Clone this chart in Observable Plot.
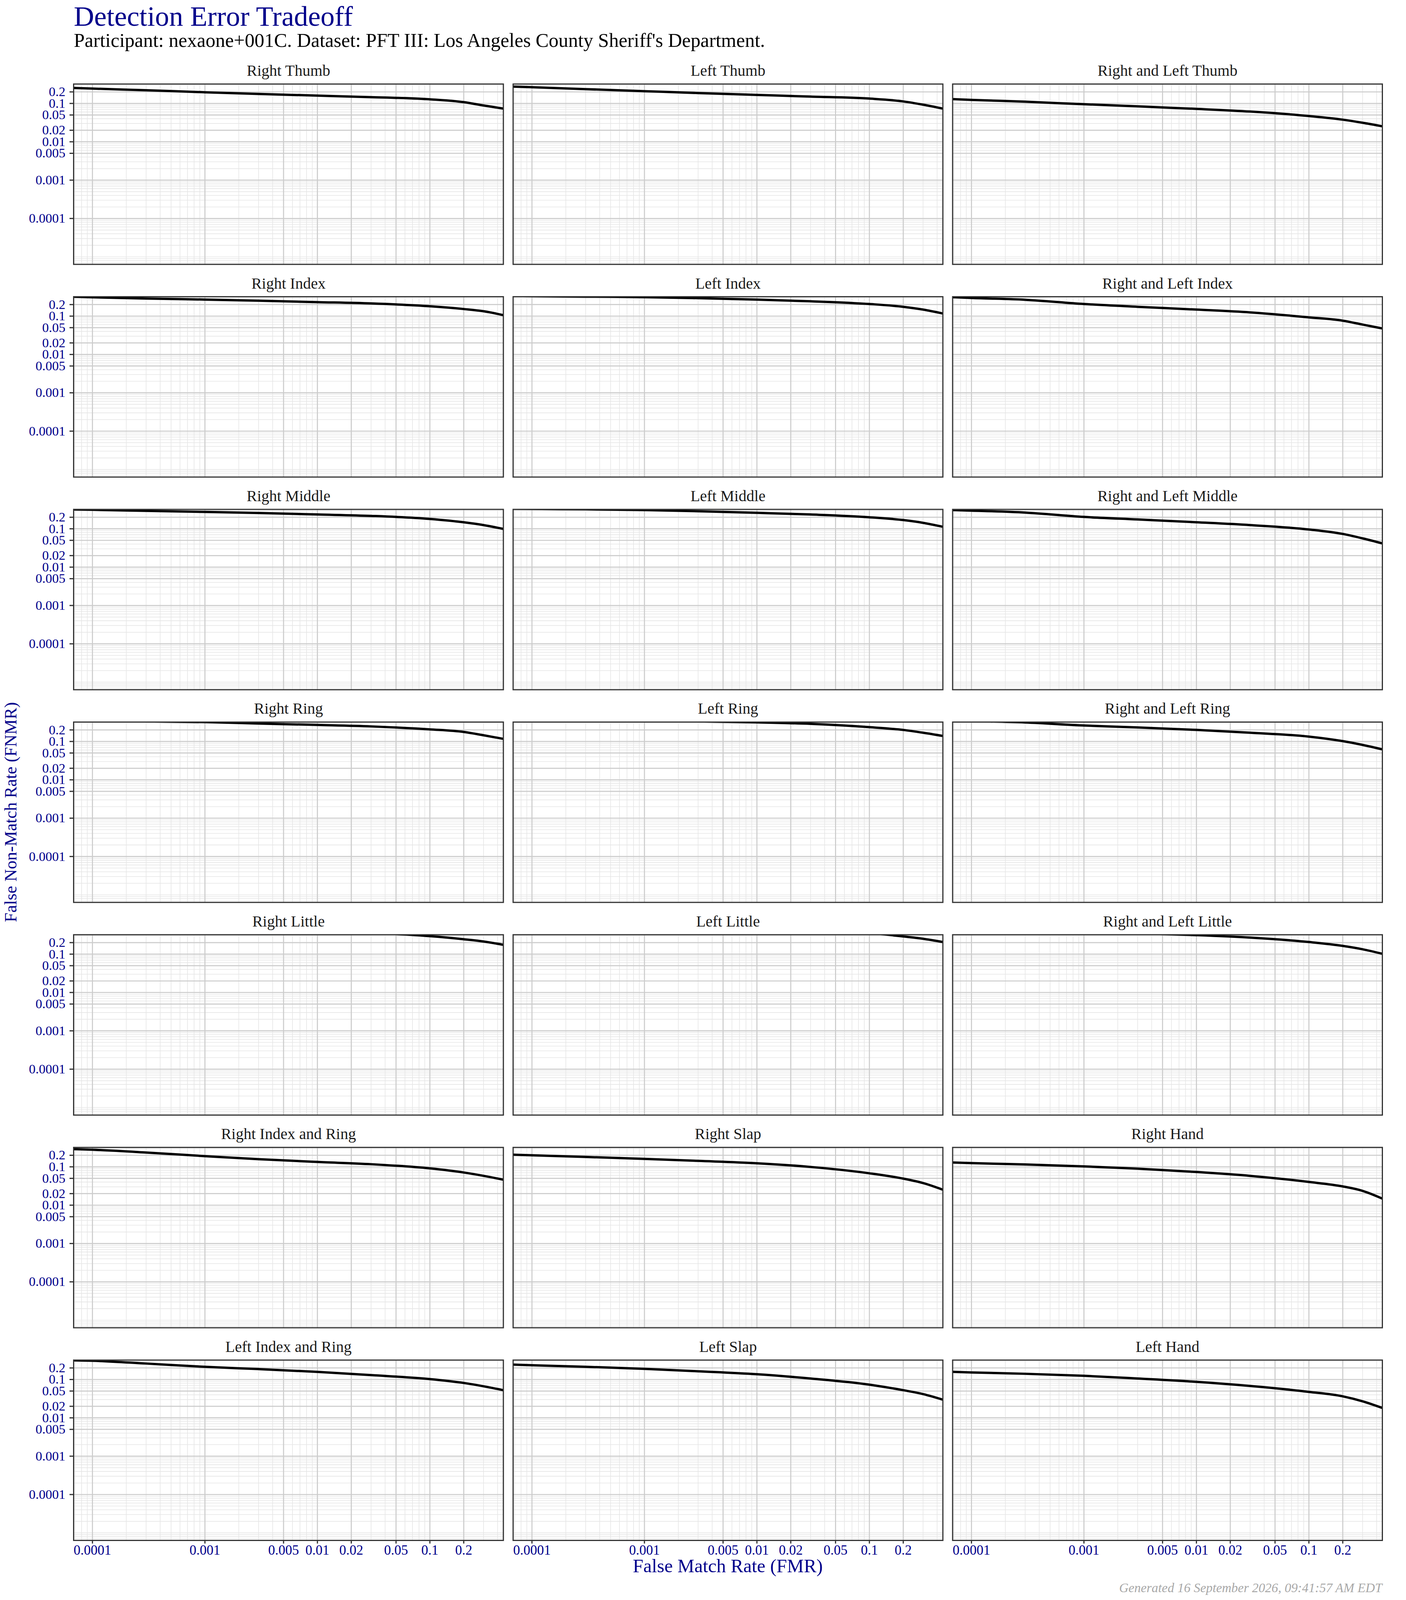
<!DOCTYPE html>
<html>
<head>
<meta charset="utf-8">
<script src="https://cdn.jsdelivr.net/npm/d3@7"></script>
<script src="https://cdn.jsdelivr.net/npm/@observablehq/plot@0.6"></script>
<style>
  html, body { margin: 0; background: #fff; }
  #page { position: relative; width: 3600px; height: 4096px; background: #fff; font-family: "Liberation Serif", "DejaVu Serif", serif; overflow: hidden; }
  .abs { position: absolute; white-space: nowrap; line-height: 1; }
</style>
</head>
<body>
<div id="page">
  <div class="abs" style="left:189px; top:6.3px; font-size:72px; color:#00008B;">Detection Error Tradeoff</div>
  <div class="abs" style="left:189px; top:78.4px; font-size:50px; color:#000;">Participant: nexaone+001C. Dataset: PFT III: Los Angeles County Sheriff's Department.</div>
  <div id="chart" style="position:absolute; left:0; top:140px;"></div>
  <div class="abs" style="left:188px; width:3351px; text-align:center; top:3985.4px; font-size:48.5px; color:#00008B;">False Match Rate (FMR)</div>
  <div class="abs" style="left:-371.8px; width:800px; text-align:center; top:2057px; height:44px; font-size:44px; color:#00008B; transform:rotate(-90deg); transform-origin:center;">False Non-Match Rate (FNMR)</div>
  <div class="abs" style="right:61px; top:4048.4px; font-size:33.4px; font-style:italic; color:#a8a8a8;">Generated 16 September 2026, 09:41:57 AM EDT</div>
</div>
<script>
// Panel titles (row-major, 3 columns)
const panelNames = [
  "Right Thumb", "Left Thumb", "Right and Left Thumb",
  "Right Index", "Left Index", "Right and Left Index",
  "Right Middle", "Left Middle", "Right and Left Middle",
  "Right Ring", "Left Ring", "Right and Left Ring",
  "Right Little", "Left Little", "Right and Left Little",
  "Right Index and Ring", "Right Slap", "Right Hand",
  "Left Index and Ring", "Left Slap", "Left Hand"
];

// False Match Rate sample points (shared by all curves)
const fmr = [6.8e-5, 1e-4, 3e-4, 1e-3, 3e-3, 0.01, 0.03, 0.1, 0.2, 0.3, 0.45];

// False Non-Match Rate (null = curve not drawn there)
const rightThumb      = [0.254, 0.244, 0.221, 0.196, 0.177, 0.160, 0.146, 0.128, 0.108, 0.0885, 0.0734];
const leftThumb       = [0.275, 0.265, 0.236, 0.209, 0.187, 0.167, 0.151, 0.134, 0.113, 0.0929, 0.0734];
const rlThumb         = [0.130, 0.124, 0.111, 0.0953, 0.0840, 0.0721, 0.0614, 0.0470, 0.0377, 0.0313, 0.0253];
const rightIndex      = [0.319, 0.310, 0.288, 0.270, 0.252, 0.232, 0.214, 0.181, 0.153, 0.134, 0.106];
const leftIndex       = [0.335, 0.330, 0.322, 0.313, 0.294, 0.270, 0.244, 0.207, 0.175, 0.148, 0.117];
const rlIndex         = [0.313, 0.298, 0.267, 0.207, 0.175, 0.148, 0.125, 0.0929, 0.0760, 0.0602, 0.0476];
const rightMiddle     = [0.319, 0.313, 0.294, 0.276, 0.258, 0.236, 0.217, 0.181, 0.148, 0.125, 0.0992];
const leftMiddle      = [0.335, 0.330, 0.322, 0.308, 0.288, 0.261, 0.236, 0.200, 0.169, 0.143, 0.113];
const rlMiddle        = [0.308, 0.298, 0.265, 0.204, 0.175, 0.148, 0.125, 0.0961, 0.0734, 0.0563, 0.0417];
const rightRing       = [null, null, 0.335, 0.320, 0.294, 0.270, 0.247, 0.207, 0.177, 0.145, 0.117];
const leftRing        = [null, null, null, null, 0.335, 0.315, 0.288, 0.236, 0.200, 0.169, 0.139];
const rlRing          = [null, 0.340, 0.313, 0.261, 0.232, 0.200, 0.169, 0.134, 0.102, 0.0813, 0.0622];
const rightLittle     = [null, null, null, null, null, null, 0.360, 0.295, 0.245, 0.214, 0.175];
const leftLittle      = [null, null, null, null, null, null, null, 0.360, 0.290, 0.252, 0.207];
const rlLittle        = [null, null, null, null, 0.350, 0.313, 0.270, 0.207, 0.164, 0.134, 0.102];
const rightIndexRing  = [0.290, 0.279, 0.236, 0.190, 0.158, 0.134, 0.117, 0.0910, 0.0711, 0.0582, 0.0461];
const rightSlap       = [0.207, 0.200, 0.181, 0.161, 0.143, 0.124, 0.0993, 0.0678, 0.0492, 0.0377, 0.0253];
const rightHand       = [0.130, 0.125, 0.115, 0.1026, 0.0897, 0.0734, 0.0582, 0.0403, 0.0308, 0.0236, 0.0148];
const leftIndexRing   = [0.315, 0.308, 0.261, 0.214, 0.187, 0.158, 0.130, 0.1026, 0.0813, 0.0666, 0.0526];
const leftSlap        = [0.244, 0.236, 0.214, 0.190, 0.164, 0.137, 0.106, 0.0734, 0.0526, 0.0417, 0.0298];
const leftHand        = [0.158, 0.153, 0.141, 0.125, 0.106, 0.0869, 0.0678, 0.0476, 0.0364, 0.0270, 0.0181];

// Axis tick labels
const xTicks = [0.0001, 0.001, 0.005, 0.01, 0.02, 0.05, 0.1, 0.2];
const yTicks = [0.0001, 0.001, 0.005, 0.01, 0.02, 0.05, 0.1, 0.2];

const fnmrSeries = [
  rightThumb, leftThumb, rlThumb,
  rightIndex, leftIndex, rlIndex,
  rightMiddle, leftMiddle, rlMiddle,
  rightRing, leftRing, rlRing,
  rightLittle, leftLittle, rlLittle,
  rightIndexRing, rightSlap, rightHand,
  leftIndexRing, leftSlap, leftHand
];

const panels = panelNames.map((name, i) => ({name, col: i % 3, row: Math.floor(i / 3)}));
const lineData = [];
panels.forEach((p, i) => {
  fnmrSeries[i].forEach((v, j) => {
    if (v != null) lineData.push({panel: p.name, col: p.col, row: p.row, fmr: fmr[j], fnmr: v});
  });
});

const xDomain = [6.8e-5, 0.45];
const yDomain = [6.35e-6, 0.321];
function logGrid(lo, hi, nMin, nMax) {
  const out = [];
  for (let n = nMin; n <= nMax; n++) for (let k = 1; k <= 9; k++) {
    const v = k * Math.pow(10, n);
    if (v >= lo && v <= hi) out.push(v);
  }
  return out;
}
const minorX = logGrid(xDomain[0], xDomain[1], -5, -1);
const minorY = logGrid(yDomain[0], yDomain[1], -6, -1);
const fmt = d => String(d);

const chart = Plot.plot({
  width: 3600,
  height: 3956,
  marginTop: 74.6,
  marginBottom: 153,
  marginLeft: 188,
  marginRight: 61,
  style: {fontFamily: "'Liberation Serif', 'DejaVu Serif', serif", background: "white", color: "#333333"},
  x: {type: "log", domain: xDomain},
  y: {type: "log", domain: yDomain},
  fx: {domain: [0, 1, 2], paddingInner: 0.0222, paddingOuter: 0, round: false, axis: null},
  fy: {domain: [0, 1, 2, 3, 4, 5, 6], paddingInner: 0.152, paddingOuter: 0, round: false, axis: null},
  marks: [
    Plot.ruleX(minorX, {stroke: "#e6e6e6", strokeWidth: 1.6}),
    Plot.ruleY(minorY, {stroke: "#e6e6e6", strokeWidth: 1.6}),
    Plot.ruleX(xTicks, {stroke: "#cccccc", strokeWidth: 2.7}),
    Plot.ruleY(yTicks, {stroke: "#cccccc", strokeWidth: 2.7}),
    Plot.line(lineData, {
      x: "fmr", y: "fnmr", fx: "col", fy: "row", z: "panel",
      stroke: "black", strokeWidth: 6, curve: "monotone-x", clip: true
    }),
    Plot.frame({stroke: "#333333", strokeWidth: 3}),
    Plot.text(panels, {
      fx: "col", fy: "row", text: "name", frameAnchor: "top",
      lineAnchor: "bottom", dy: -21, fontSize: 40, fill: "#1a1a1a"
    }),
    // tick marks only; labels are drawn by the text marks below
    Plot.axisX(xTicks, {
      facetAnchor: "bottom", anchor: "bottom", tickSize: 8.5,
      fill: "none", stroke: "#333333", strokeWidth: 3, label: null
    }),
    Plot.axisY(yTicks, {
      facetAnchor: "left", anchor: "left", tickSize: 10,
      fill: "none", stroke: "#333333", strokeWidth: 3, label: null
    }),
    Plot.text(xTicks, {
      x: d => d, text: fmt, frameAnchor: "bottom", lineAnchor: "top", dy: 12,
      facetAnchor: "bottom", fontSize: 35, fill: "#00008B"
    }),
    Plot.text(yTicks, {
      y: d => d, text: fmt, frameAnchor: "left", textAnchor: "end", lineAnchor: "middle", dx: -21,
      facetAnchor: "left", fontSize: 34, fill: "#00008B"
    })
  ]
});
document.getElementById("chart").appendChild(chart);
</script>
</body>
</html>
